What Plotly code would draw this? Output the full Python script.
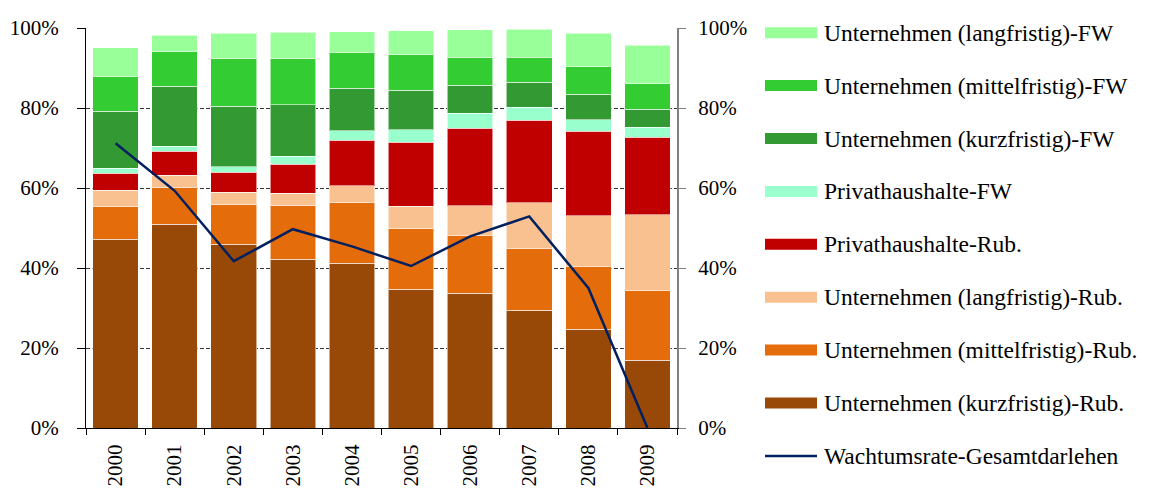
import plotly.graph_objects as go

# Loan structure by borrower group and currency, shares of total loans (%)
years = ["2000", "2001", "2002", "2003", "2004", "2005", "2006", "2007", "2008", "2009"]

unt_kurz_rub = [47.2, 51.0, 46.0, 42.2, 41.2, 34.7, 33.7, 29.5, 24.7, 17.0]
unt_mittel_rub = [8.2, 9.2, 10.0, 13.4, 15.2, 15.1, 14.5, 15.3, 15.7, 17.4]
unt_lang_rub = [4.1, 3.0, 3.0, 3.1, 4.2, 5.7, 7.4, 11.5, 12.7, 18.9]
priv_rub = [4.2, 6.0, 4.9, 7.2, 11.4, 15.9, 19.4, 20.6, 21.1, 19.4]
priv_fw = [1.2, 1.3, 1.4, 2.0, 2.3, 3.2, 3.7, 3.3, 2.9, 2.5]
unt_kurz_fw = [14.3, 14.9, 15.1, 12.9, 10.7, 9.9, 7.0, 6.3, 6.3, 4.5]
unt_mittel_fw = [8.7, 8.8, 12.1, 11.7, 8.9, 8.9, 7.0, 6.2, 6.9, 6.4]
unt_lang_fw = [7.2, 4.0, 6.2, 6.5, 5.2, 5.9, 6.9, 7.0, 8.4, 9.6]

# Growth rate of total loans (%)
wachstum = [71.2, 59.3, 41.7, 49.7, 45.4, 40.5, 47.9, 52.9, 35.0, 0.0]

tick_vals = [0, 20, 40, 60, 80, 100]
tick_text = ["0%", "20%", "40%", "60%", "80%", "100%"]

bar_series = [
    ("Unternehmen (kurzfristig)-Rub.", unt_kurz_rub, "#984807"),
    ("Unternehmen (mittelfristig)-Rub.", unt_mittel_rub, "#E46C0A"),
    ("Unternehmen (langfristig)-Rub.", unt_lang_rub, "#F9C090"),
    ("Privathaushalte-Rub.", priv_rub, "#C00000"),
    ("Privathaushalte-FW", priv_fw, "#99FFCC"),
    ("Unternehmen (kurzfristig)-FW", unt_kurz_fw, "#339933"),
    ("Unternehmen (mittelfristig)-FW", unt_mittel_fw, "#33CC33"),
    ("Unternehmen (langfristig)-FW", unt_lang_fw, "#99FF99"),
]
line_name = "Wachtumsrate-Gesamtdarlehen"
line_color = "#002060"

FONT = "Liberation Serif"
W, H = 1149, 488
ML, MR, MT, MB = 86, 472, 28, 60

fig = go.Figure()
for name, vals, color in bar_series:
    fig.add_trace(go.Bar(
        x=years, y=vals, name=name,
        marker=dict(color=color, line=dict(color="rgba(255,255,255,0.55)", width=1)),
        showlegend=False,
    ))

fig.add_trace(go.Scatter(
    x=years, y=wachstum, name=line_name, mode="lines",
    line=dict(color=line_color, width=2.5),
    yaxis="y2", showlegend=False,
))

# Legend drawn beside the plot: wide colour bars with labels
pw = W - ML - MR
ph = H - MT - MB


def px_x(x):
    return (x - ML) / pw


def px_y(y):
    return (H - MB - y) / ph


legend_items = [(n, c, "bar") for n, _, c in reversed(bar_series)] + [(line_name, line_color, "line")]
row0, row_step = 32.7, 52.9
shapes = []
annotations = []
for i, (name, color, kind) in enumerate(legend_items):
    yc = row0 + i * row_step
    if kind == "bar":
        shapes.append(dict(type="rect", xref="paper", yref="paper",
                           x0=px_x(765), x1=px_x(817), y0=px_y(yc + 5.5), y1=px_y(yc - 5.5),
                           fillcolor=color, line=dict(width=0)))
    else:
        shapes.append(dict(type="line", xref="paper", yref="paper",
                           x0=px_x(765), x1=px_x(817), y0=px_y(yc), y1=px_y(yc),
                           line=dict(color=color, width=2.5)))
    annotations.append(dict(text=name, xref="paper", yref="paper",
                            x=px_x(822), y=px_y(yc), xanchor="left", yanchor="middle",
                            showarrow=False, font=dict(family=FONT, size=23.5, color="black")))

fig.update_layout(
    width=W, height=H,
    margin=dict(l=ML, r=MR, t=MT, b=MB, pad=0),
    barmode="stack", bargap=0.227,
    plot_bgcolor="white", paper_bgcolor="white",
    font=dict(family=FONT, size=21, color="black"),
    showlegend=False,
    shapes=shapes, annotations=annotations,
    xaxis=dict(
        type="category", showline=True, linecolor="black", linewidth=1,
        ticks="outside", tickson="boundaries", ticklen=6, tickcolor="black",
        tickangle=-90, showgrid=False, ticklabelstandoff=7, automargin=False,
        tickfont=dict(family=FONT, size=21, color="black"),
    ),
    yaxis=dict(
        range=[0, 100], tickvals=tick_vals, ticktext=tick_text,
        showline=True, linecolor="black", linewidth=1,
        ticks="outside", ticklen=8, tickcolor="black", ticklabelstandoff=14,
        showgrid=True, gridcolor="#333333", gridwidth=1, griddash="4px,2px",
        zeroline=False, automargin=False,
    ),
    yaxis2=dict(
        range=[0, 100], tickvals=tick_vals, ticktext=tick_text,
        overlaying="y", side="right",
        showline=True, linecolor="#808080", linewidth=2,
        ticks="outside", ticklen=7, tickcolor="#808080", ticklabelstandoff=8,
        showgrid=False, zeroline=False, automargin=False,
    ),
)

fig.write_html("out.html")
